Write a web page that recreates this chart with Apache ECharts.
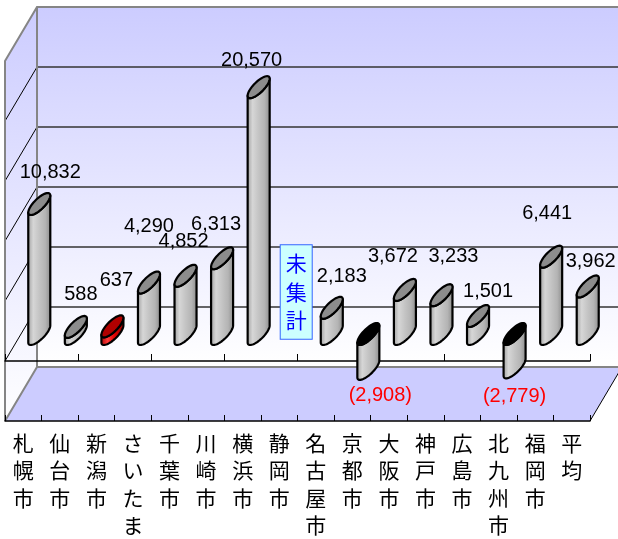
<!DOCTYPE html>
<html>
<head>
<meta charset="utf-8">
<script src="https://cdn.jsdelivr.net/npm/echarts@6/dist/echarts.min.js"></script>
<style>
html, body { margin: 0; padding: 0; background: #fff; }
#chart { width: 618px; height: 539px; }
</style>
</head>
<body>
<div id="chart"></div>
<script>
const cities = ['札幌市', '仙台市', '新潟市', 'さいたま', '千葉市', '川崎市', '横浜市', '静岡市',
  '名古屋市', '京都市', '大阪市', '神戸市', '広島市', '北九州市', '福岡市', '平均'];
const values = [10832, 588, 637, 4290, 4852, 6313, 20570, null,
  2183, -2908, 3672, 3233, 1501, -2779, 6441, 3962];
const gridValues = [0, 5000, 10000, 15000, 20000];
const yMin = -5000;
const yMax = 25000;
const yStep = 5000;
const highlightCity = '新潟市';
const missingText = '未集計';
// hand placed label nudges (dx, dy from the bar end), like the original sheet
const labelNudge = [[11, -32], [5, -32], [4, -46], [0, -56], [-2, -34], [-6, -34], [-7, -27], [0, 0],
  [10, -31], [12, 27], [-12, -33], [12, -39], [10, -25], [0, 29], [-4, -43], [3, -25]];

const DEPTH = [32, -54]; // front plane -> back wall
const MID = [DEPTH[0] / 2, DEPTH[1] / 2]; // bars sit half way
const RX = 7, VX = 8.5, VY = 11; // cylinder cross section
const TH = Math.atan2(-VX, RX);
const FONT = '"Liberation Sans", Arial, sans-serif';

function ept(c, t) {
  return [c[0] + RX * Math.cos(t) - VX * Math.sin(t), c[1] + VY * Math.sin(t)];
}
function arc(c, a, b, n) {
  const pts = [];
  for (let k = 0; k <= n; k++) pts.push(ept(c, a + (b - a) * k / n));
  return pts;
}
function shift(p, d) {
  return [p[0] + d[0], p[1] + d[1]];
}
function fmt(v) {
  const s = Math.abs(v).toLocaleString('en-US');
  return v < 0 ? '(' + s + ')' : s;
}

const renderWalls = (params, api) => {
  const n = cities.length;
  const bw = api.size([1, 0])[0];
  const top = api.coord([0, yMax])[1];
  const bot = api.coord([0, yMin])[1];
  const L = api.coord([0, 0])[0] - bw / 2;
  const R = api.coord([n - 1, 0])[0] + bw / 2;
  const dx = DEPTH[0], dy = DEPTH[1];
  const wallFill = {
    type: 'linear', x: 0, y: 0, x2: 0, y2: 1,
    colorStops: [{ offset: 0, color: '#ccccff' }, { offset: 1, color: '#ffffff' }],
  };
  const kids = [
    { type: 'polygon', shape: { points: [[L + dx, top + dy], [R + dx, top + dy], [R + dx, bot + dy], [L + dx, bot + dy]] }, style: { fill: wallFill } },
    { type: 'polygon', shape: { points: [[L, top], [L + dx, top + dy], [L + dx, bot + dy], [L, bot]] }, style: { fill: wallFill } },
    { type: 'polygon', shape: { points: [[L, bot], [L + dx, bot + dy], [R + dx, bot + dy], [R, bot]] }, style: { fill: '#ccccff' } },
  ];
  gridValues.forEach((v) => {
    const y = api.coord([0, v])[1];
    kids.push({ type: 'line', shape: { x1: L + dx, y1: y + dy, x2: R + dx, y2: y + dy }, style: { stroke: '#333', lineWidth: 1.5 } });
    kids.push({ type: 'line', shape: { x1: L, y1: y, x2: L + dx, y2: y + dy }, style: { stroke: '#000', lineWidth: 1 } });
  });
  const gray = { stroke: '#858585', lineWidth: 2, fill: null };
  kids.push({ type: 'polyline', shape: { points: [[L, bot], [L, top], [L + dx, top + dy], [R + dx, top + dy]] }, style: gray });
  kids.push({ type: 'line', shape: { x1: L + dx, y1: top + dy, x2: L + dx, y2: bot + dy }, style: gray });
  kids.push({ type: 'polyline', shape: { points: [[L, bot], [L + dx, bot + dy], [R + dx, bot + dy]] }, style: gray });
  kids.push({ type: 'line', shape: { x1: R + dx, y1: bot + dy, x2: R, y2: bot }, style: { stroke: '#000', lineWidth: 1 } });

  // the city with no value gets a note box
  const mi = values.indexOf(null);
  if (mi >= 0) {
    const p = shift(api.coord([mi, 0]), MID);
    kids.push({
      type: 'text', x: p[0] + 1, y: p[1] - 42,
      style: {
        text: missingText.split('').join('\n'),
        fill: '#0000ff', font: '21px "Noto Sans CJK JP"', lineHeight: 28.5,
        align: 'center', verticalAlign: 'middle',
        backgroundColor: '#ccffff', borderColor: '#3366ff', borderWidth: 1, padding: [4, 5],
      },
    });
  }
  return { type: 'group', children: kids };
};

const renderBars = (params, api) => {
  const v = api.value(1);
  if (isNaN(v)) return;
  const i = api.value(0);
  const base = shift(api.coord([i, 0]), MID);
  const end = shift(api.coord([i, v]), MID);
  const up = v >= 0 ? end : base;
  const lo = v >= 0 ? base : end;
  const hot = cities[i] === highlightCity;
  const bodyFill = {
    type: 'linear', x: 0, y: 0, x2: 1, y2: 0,
    colorStops: hot
      ? [{ offset: 0, color: '#a00000' }, { offset: 0.3, color: '#ff3a3a' }, { offset: 0.6, color: '#e00000' }, { offset: 1, color: '#900000' }]
      : [{ offset: 0, color: '#9a9a9a' }, { offset: 0.25, color: '#d6d6d6' }, { offset: 0.5, color: '#c4c4c4' }, { offset: 0.75, color: '#b4b4b4' }, { offset: 1, color: '#888888' }],
  };
  const body = arc(lo, TH, TH + Math.PI, 32).concat(arc(up, TH + Math.PI, TH, 32));
  const capColor = v < 0 ? '#000000' : (hot ? '#b00000' : '#8c8c8c');
  const nd = labelNudge[i];
  return {
    type: 'group',
    children: [
      { type: 'polygon', shape: { points: body }, style: { fill: bodyFill, stroke: '#000', lineWidth: 2.2, lineJoin: 'round' } },
      { type: 'polygon', shape: { points: arc(up, 0, Math.PI * 2, 48) }, style: { fill: capColor, stroke: '#000', lineWidth: 2.2 } },
      {
        type: 'text', x: end[0] + nd[0], y: end[1] + nd[1],
        style: { text: fmt(v), fill: v < 0 ? '#ff0000' : '#000', font: '20px ' + FONT, align: 'center', verticalAlign: 'middle' },
      },
    ],
  };
};

const chart = echarts.init(document.getElementById('chart'));
chart.setOption({
  animation: false,
  backgroundColor: '#fff',
  grid: { left: 5, right: 28, top: 61, bottom: 116 },
  xAxis: [
    {
      // line at zero with ticks pointing up
      type: 'category',
      data: cities,
      position: 'top',
      z: 3,
      axisLine: { onZero: true, lineStyle: { color: '#000', width: 1.5 } },
      axisTick: { show: true, inside: false, length: 7, lineStyle: { color: '#000', width: 1 } },
      axisLabel: { show: false },
      splitLine: { show: false },
    },
    {
      type: 'category',
      data: cities,
      position: 'bottom',
      z: 3,
      axisLine: { onZero: false, lineStyle: { color: '#000', width: 1.5 } },
      axisTick: { show: true, inside: true, length: 6, lineStyle: { color: '#000', width: 1 } },
      axisLabel: {
        interval: 0,
        margin: 8,
        color: '#000',
        fontSize: 21,
        lineHeight: 27.5,
        fontFamily: '"Noto Sans CJK JP"',
        formatter: (s) => s.split('').join('\n'),
      },
      splitLine: { show: false },
    },
  ],
  yAxis: {
    type: 'value',
    min: yMin,
    max: yMax,
    interval: yStep,
    show: false,
    splitLine: { show: false },
  },
  series: [
    {
      type: 'custom',
      z: 1,
      silent: true,
      clip: false,
      renderItem: renderWalls,
      data: [[0, 0]],
    },
    {
      type: 'custom',
      z: 5,
      silent: true,
      clip: false,
      renderItem: renderBars,
      encode: { x: 0, y: 1 },
      data: values.map((v, i) => [i, v == null ? '-' : v]),
    },
  ],
});
</script>
</body>
</html>
